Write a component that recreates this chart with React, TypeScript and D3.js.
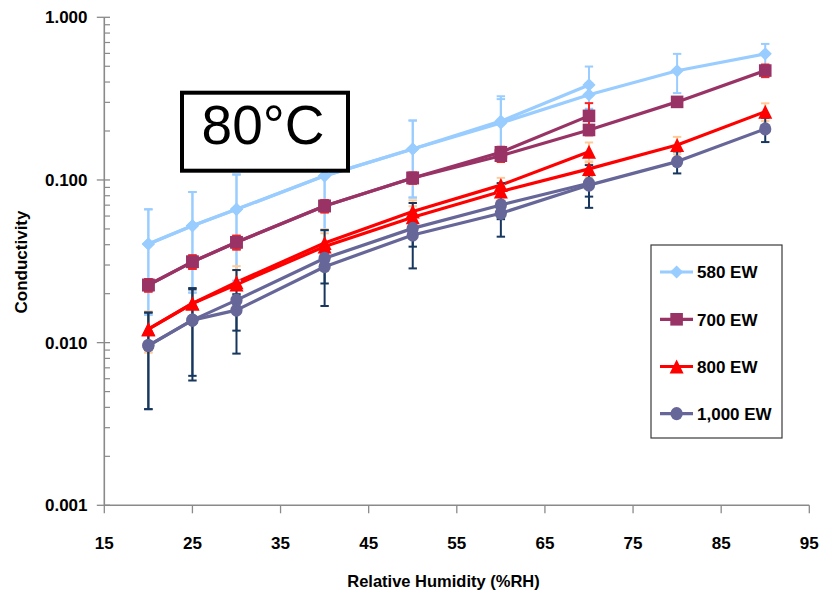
import React from "react";
import * as d3 from "d3";

// ---------- data ----------
const rhShort = [20, 25, 30, 40, 50, 60, 70];
const rhLong = [20, 25, 30, 40, 50, 60, 70, 80, 90];

const seriesNames = ["580 EW", "700 EW", "800 EW", "1,000 EW"];

const ew580Short = [0.0404, 0.0523, 0.066, 0.106, 0.155, 0.23, 0.384];
const ew580Long = [0.0404, 0.0523, 0.066, 0.106, 0.155, 0.224, 0.334, 0.469, 0.596];
const err580Short = [0.0256, 0.032, 0.042, 0.057, 0.077, 0.097, 0.114];
const err580Long = [0.0256, 0.032, 0.042, 0.057, 0.077, 0.09, 0.06, 0.127, 0.09];

const ew700Short = [0.0226, 0.0314, 0.0414, 0.0692, 0.1029, 0.148, 0.2477];
const ew700Long = [0.0226, 0.0314, 0.0414, 0.0692, 0.1029, 0.141, 0.203, 0.302, 0.4706];
const err700Short = [0.002, 0.003, 0.004, 0.006, 0.008, 0.012, 0.049];
const err700Long = [0.002, 0.003, 0.004, 0.006, 0.008, 0.012, 0.015, 0.02, 0.042];

const ew800Short = [0.0121, 0.0174, 0.0235, 0.041, 0.064, 0.093, 0.149];
const ew800Long = [0.0121, 0.0174, 0.0228, 0.039, 0.059, 0.085, 0.117, 0.164, 0.263];
const err800Short = [0.0034, 0.0042, 0.006, 0.0088, 0.011, 0.01, 0.021];
const err800Long = [0.0034, 0.0042, 0.005, 0.008, 0.01, 0.01, 0.013, 0.02, 0.033];

const ew1000Short = [0.0096, 0.01375, 0.01826, 0.033, 0.0504, 0.0702, 0.0954];
const ew1000Long = [0.0096, 0.01375, 0.01585, 0.0293, 0.0459, 0.0624, 0.093, 0.1297, 0.206];
const err1000Short = [0.0057, 0.0079, 0.0097, 0.0162, 0.0218, 0.0254, 0.028];
const err1000Long = [0.0057, 0.0075, 0.004, 0.0062, 0.007, 0.005, 0.014, 0.02, 0.035];

const xTickValues = [15, 25, 35, 45, 55, 65, 75, 85, 95];
const yTickValues = [0.001, 0.01, 0.1, 1];
const yTickLabels = ["0.001", "0.010", "0.100", "1.000"];

const xTitle = "Relative Humidity (%RH)";
const yTitle = "Conductivity";
const boxTitle = "80°C";

// ---------- styles ----------
const FONT = "'Liberation Sans', Arial, sans-serif";
const AXIS = "#8a8a8a";

type Marker = "diamond" | "square" | "triangle" | "circle";
const seriesStyle: { color: string; err: string; marker: Marker }[] = [
  { color: "#99CCFF", err: "#99CCFF", marker: "diamond" },
  { color: "#993366", err: "#FF2020", marker: "square" },
  { color: "#FF0000", err: "#FFCC99", marker: "triangle" },
  { color: "#666699", err: "#17375E", marker: "circle" },
];

const seriesData = [
  { short: ew580Short, long: ew580Long, eS: err580Short, eL: err580Long },
  { short: ew700Short, long: ew700Long, eS: err700Short, eL: err700Long },
  { short: ew800Short, long: ew800Long, eS: err800Short, eL: err800Long },
  { short: ew1000Short, long: ew1000Long, eS: err1000Short, eL: err1000Long },
];

function MarkerShape({ type, x, y, color }: { type: Marker; x: number; y: number; color: string }) {
  if (type === "diamond") {
    const r = 6.6;
    return <path d={`M${x},${y - r}L${x + r},${y}L${x},${y + r}L${x - r},${y}Z`} fill={color} />;
  }
  if (type === "square") {
    const r = 6.3;
    return <rect x={x - r} y={y - r} width={2 * r} height={2 * r} fill={color} />;
  }
  if (type === "triangle") {
    const r = 7;
    return <path d={`M${x},${y - r}L${x + r},${y + r}L${x - r},${y + r}Z`} fill={color} />;
  }
  return <ellipse cx={x} cy={y} rx={6.1} ry={6.6} fill={color} />;
}

export default function App() {
  const x = d3.scaleLinear().domain([15, 95]).range([104.3, 809.3]);
  const y = d3.scaleLog().domain([0.001, 1]).range([505.3, 17.3]);
  const line = d3
    .line<[number, number]>()
    .x((d) => x(d[0]))
    .y((d) => y(d[1]));

  const minorTicks: number[] = [];
  for (let p = -3; p < 0; p++) {
    for (let m = 2; m <= 9; m++) minorTicks.push(m * Math.pow(10, p));
  }

  const curves: { xs: number[]; vs: number[]; es: number[]; s: number }[] = [];
  seriesData.forEach((sd, i) => {
    curves.push({ xs: rhShort, vs: sd.short, es: sd.eS, s: i });
    curves.push({ xs: rhLong, vs: sd.long, es: sd.eL, s: i });
  });

  const legendY = [272, 319.3, 366.5, 413.7];

  return (
    <svg
      width={819}
      height={593}
      style={{ position: "absolute", left: 0, top: 0, background: "#fff" }}
      fontFamily={FONT}
    >
      <rect x={0} y={0} width={819} height={593} fill="#fff" />
      {/* axes */}
      <line x1={x(15)} x2={x(95)} y1={505.3} y2={505.3} stroke={AXIS} strokeWidth={1.6} />
      <line x1={104.3} x2={104.3} y1={y(1)} y2={505.3} stroke={AXIS} strokeWidth={1.6} />
      {yTickValues.map((v) => (
        <line key={"yt" + v} x1={96.8} x2={110} y1={y(v)} y2={y(v)} stroke={AXIS} strokeWidth={1.3} />
      ))}
      {minorTicks.map((v) => (
        <line key={"ym" + v} x1={104.3} x2={110} y1={y(v)} y2={y(v)} stroke={AXIS} strokeWidth={1.2} />
      ))}
      {xTickValues.map((v) => (
        <line key={"xt" + v} x1={x(v)} x2={x(v)} y1={505.3} y2={513.3} stroke={AXIS} strokeWidth={1.3} />
      ))}
      {/* tick labels */}
      {yTickValues.map((v, i) => (
        <text
          key={"yl" + v}
          x={87.5}
          y={y(v)}
          dy="0.36em"
          textAnchor="end"
          fontSize={17}
          fontWeight="bold"
          fill="#000"
        >
          {yTickLabels[i]}
        </text>
      ))}
      {xTickValues.map((v) => (
        <text
          key={"xl" + v}
          x={x(v)}
          y={549.3}
          textAnchor="middle"
          fontSize={17}
          fontWeight="bold"
          fill="#000"
        >
          {v}
        </text>
      ))}
      <text x={443.5} y={586.5} textAnchor="middle" fontSize={16.5} fontWeight="bold" fill="#000">
        {xTitle}
      </text>
      <text
        transform="translate(26.5,262) rotate(-90)"
        textAnchor="middle"
        fontSize={17}
        fontWeight="bold"
        fill="#000"
      >
        {yTitle}
      </text>

      {/* lines */}
      {curves.map((c, i) => (
        <path
          key={"ln" + i}
          d={line(c.xs.map((xv, j) => [xv, c.vs[j]] as [number, number])) || ""}
          fill="none"
          stroke={seriesStyle[c.s].color}
          strokeWidth={3.2}
          strokeLinejoin="round"
        />
      ))}
      {/* error bars */}
      {curves.map((c, i) =>
        c.xs.map((xv, j) => {
          const px = x(xv);
          const top = y(c.vs[j] + c.es[j]);
          const lo = Math.max(c.vs[j] - c.es[j], 0.0011);
          const bot = y(lo);
          const col = seriesStyle[c.s].err;
          return (
            <g key={"eb" + i + "-" + j} stroke={col} strokeWidth={2}>
              <line x1={px} x2={px} y1={top} y2={bot} />
              <line x1={px - 4.2} x2={px + 4.2} y1={top} y2={top} />
              <line x1={px - 4.2} x2={px + 4.2} y1={bot} y2={bot} />
            </g>
          );
        })
      )}
      {/* markers */}
      {curves.map((c, i) =>
        c.xs.map((xv, j) => (
          <MarkerShape
            key={"mk" + i + "-" + j}
            type={seriesStyle[c.s].marker}
            x={x(xv)}
            y={y(c.vs[j])}
            color={seriesStyle[c.s].color}
          />
        ))
      )}

      {/* legend */}
      <rect x={651} y={245} width={131} height={193} fill="#fff" stroke="#3a3a3a" strokeWidth={1.2} />
      {seriesNames.map((name, i) => (
        <g key={"lg" + i}>
          <line x1={660} x2={693} y1={legendY[i]} y2={legendY[i]} stroke={seriesStyle[i].color} strokeWidth={3.2} />
          <MarkerShape type={seriesStyle[i].marker} x={676.6} y={legendY[i]} color={seriesStyle[i].color} />
          <text x={697} y={legendY[i] + 6.2} fontSize={17} fontWeight="bold" fill="#000">
            {name}
          </text>
        </g>
      ))}

      {/* title box */}
      <rect x={182} y={92.7} width={166} height={78} fill="#fff" stroke="#000" strokeWidth={4} />
      <text x={263} y={144} textAnchor="middle" fontSize={55} fill="#000">
        {boxTitle}
      </text>
    </svg>
  );
}
